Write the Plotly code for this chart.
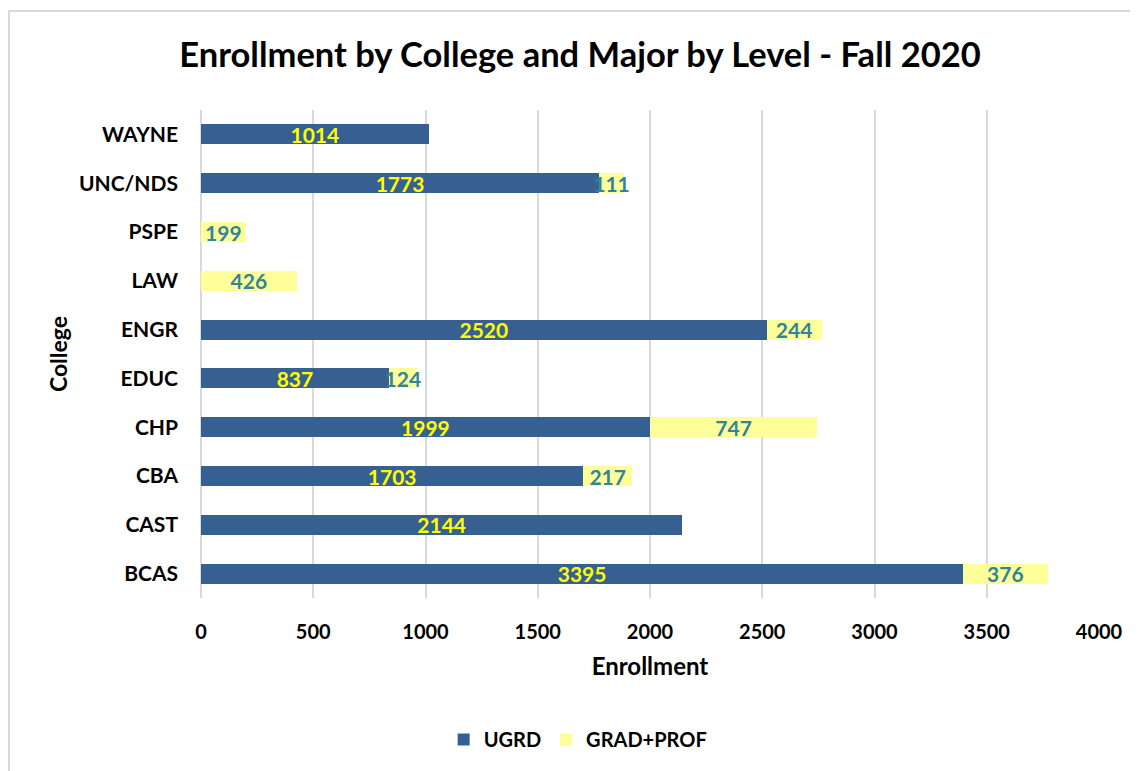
import plotly.graph_objects as go

colleges = ["BCAS", "CAST", "CBA", "CHP", "EDUC", "ENGR", "LAW", "PSPE", "UNC/NDS", "WAYNE"]
ugrd = [3395, 2144, 1703, 1999, 837, 2520, 0, 0, 1773, 1014]
grad_prof = [376, 0, 217, 747, 124, 244, 426, 199, 111, 0]
x_ticks = [0, 500, 1000, 1500, 2000, 2500, 3000, 3500, 4000]

FONT = "Lato"

def labels(vals):
    return [str(v) if v else "" for v in vals]

fig = go.Figure()
fig.add_trace(go.Bar(
    y=colleges, x=ugrd, name="UGRD", orientation="h",
    marker=dict(color="#376092", line=dict(width=0)),
    text=labels(ugrd), textposition="inside", insidetextanchor="middle",
    constraintext="none",
    textfont=dict(family=FONT, size=21, color="#FFFF00", weight="bold"),
))
fig.add_trace(go.Bar(
    y=colleges, x=grad_prof, name="GRAD+PROF", orientation="h",
    marker=dict(color="#FFFF99", line=dict(width=0)),
    text=labels(grad_prof), textposition="inside", insidetextanchor="middle",
    constraintext="none",
    textfont=dict(family=FONT, size=21, color="#31849B", weight="bold"),
))

fig.update_layout(
    width=1130, height=763,
    barmode="stack", bargap=0.59,
    paper_bgcolor="white", plot_bgcolor="white",
    margin=dict(l=193, r=39, t=102, b=173),
    font=dict(family=FONT, color="black"),
    title=dict(text="<b>Enrollment by College and Major by Level - Fall 2020</b>",
               x=(580 - 8) / 1130, xanchor="center", y=1 - (55 - 8) / 763, yanchor="middle",
               font=dict(family=FONT, size=34.5, color="black")),
    xaxis=dict(range=[0, 4000], tickvals=x_ticks, ticktext=[str(t) for t in x_ticks],
               showgrid=True, gridcolor="#D9D9D9", gridwidth=2,
               zeroline=True, zerolinecolor="#D9D9D9", zerolinewidth=2,
               showline=False, ticks="", ticklabelstandoff=20,
               tickfont=dict(family=FONT, size=20, color="black", weight="bold"),
               title=dict(text="<b>Enrollment</b>", standoff=16,
                          font=dict(family=FONT, size=24, color="black"))),
    yaxis=dict(showgrid=False, showline=False, ticks="", ticklabelstandoff=22,
               tickfont=dict(family=FONT, size=21, color="black", weight="bold"),
               title=dict(text="<b>College</b>", standoff=4,
                          font=dict(family=FONT, size=23, color="black"))),
    legend=dict(orientation="h", x=0.42, xanchor="center", y=-0.29, yanchor="middle",
                font=dict(family=FONT, size=20, color="black", weight="bold"),
                traceorder="normal", itemwidth=30),
    showlegend=True,
    shapes=[dict(type="rect", xref="paper", yref="paper",
                 x0=-192 / 898, x1=1.2, y0=-0.5, y1=1.203,
                 line=dict(color="#D9D9D9", width=2), layer="below")],
)

fig.write_html("out.html")
